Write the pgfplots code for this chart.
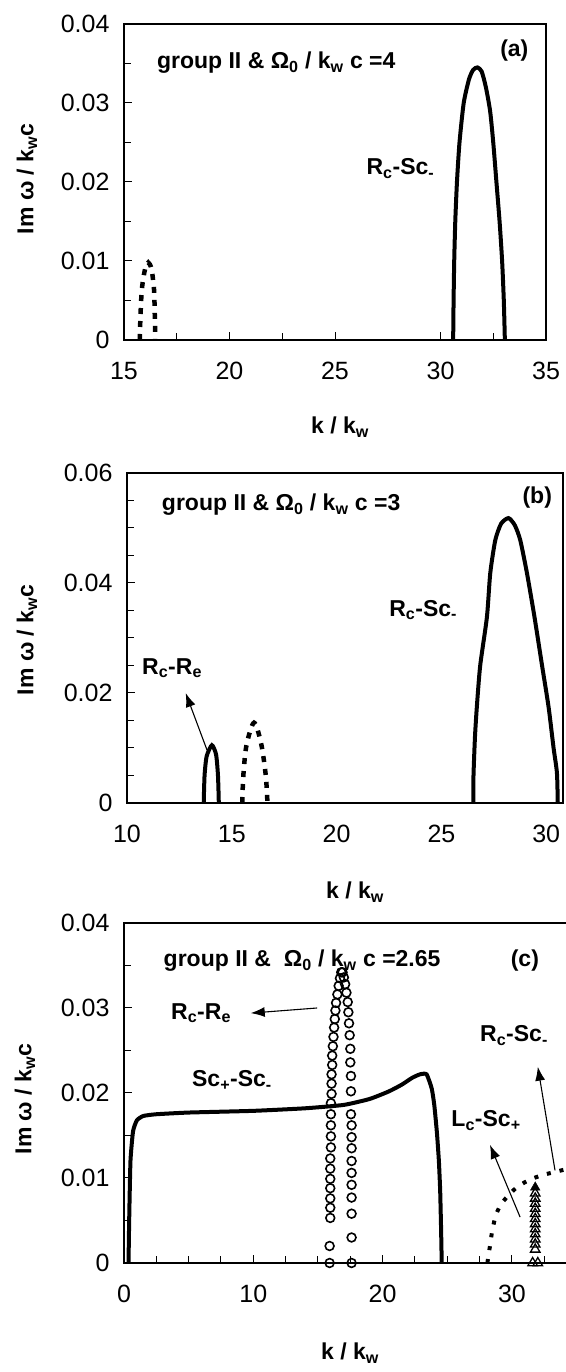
\documentclass[border=0pt]{standalone}
\usepackage{fontspec}
\setmainfont{Liberation Sans}
\usepackage{pgfplots}
\pgfplotsset{compat=1.18}
\usetikzlibrary{arrows.meta}

\pgfplotsset{
  panel/.style={
    scale only axis,
    anchor=south west,
    scaled y ticks=false, scaled x ticks=false,
    axis line style={line width=2.2pt},
    tick align=inside,
    xtick pos=bottom, ytick pos=left,
    major tick length=8pt, minor tick length=7pt,
    every tick/.style={black, line width=1pt},
    tick label style={font=\fontsize{25}{28}\selectfont},
    yticklabel style={xshift=-11pt},
    xticklabel style={yshift=-19pt},
  },
  solidc/.style={black, line width=4pt, smooth, tension=0.4, no markers},
  dashc/.style={black, line width=4.5pt, dash pattern=on 6pt off 7pt, smooth, no markers},
}
\newcommand{\ann}{\bfseries\fontsize{23}{27}\selectfont}
\newcommand{\lab}{\bfseries\fontsize{23}{27}\selectfont}
\tikzset{arr/.style={-{Latex[length=14pt,width=10pt]}, line width=1.1pt}}

\begin{document}
\begin{tikzpicture}
\useasboundingbox (0,0) rectangle (565pt,1372pt);

% ---------------- panel (a)
\begin{axis}[panel, at={(124pt,1032pt)}, width=422pt, height=316pt,
  xmin=15, xmax=35, ymin=0, ymax=0.04,
  xtick={15,20,25,30,35}, xticklabels={15,20,25,30,35},
  ytick={0,0.01,0.02,0.03,0.04}, yticklabels={0,0.01,0.02,0.03,0.04},
  minor xtick={17.5,22.5,32.5}, minor ytick={0.005,0.015,0.025,0.035}]
\addplot[solidc] coordinates {
(30.60,0) (30.62,0.005) (30.65,0.010) (30.70,0.015) (30.78,0.020) (30.90,0.025)
(31.10,0.030) (31.35,0.033) (31.55,0.0342) (31.75,0.0345) (31.95,0.034)
(32.15,0.032) (32.35,0.029) (32.50,0.025) (32.65,0.020) (32.80,0.015)
(32.92,0.010) (33.00,0.005) (33.05,0.0)};
\addplot[dashc] coordinates {
(15.75,0) (15.78,0.003) (15.85,0.0065) (16.0,0.009) (16.15,0.0098)
(16.3,0.009) (16.42,0.0065) (16.46,0.003) (16.48,0)};
\node[anchor=west, font=\ann] at (axis cs:16.4,0.0351) {group II \& Ω\textsubscript{0} / k\textsubscript{w} c =4};
\node[font=\ann] at (axis cs:33.5,0.0366) {(a)};
\node[font=\ann] at (axis cs:28.1,0.0217) {R\textsubscript{c}-Sc\textsubscript{-}};
\end{axis}

% ---------------- panel (b)
\begin{axis}[panel, at={(127pt,569pt)}, width=436pt, height=330pt,
  xmin=10, xmax=30.8, ymin=0, ymax=0.06,
  xtick={10,15,20,25,30}, xticklabels={10,15,20,25,30},
  x tick style={draw=none},
  ytick={0,0.02,0.04,0.06}, yticklabels={0,0.02,0.04,0.06},
  minor ytick={0.005,0.01,0.015,0.025,0.03,0.035,0.045,0.05,0.055}]
\addplot[solidc] coordinates {
(26.52,0) (26.53,0.005) (26.6,0.012) (26.69,0.0175) (26.85,0.025) (27.17,0.0338)
(27.33,0.0418) (27.57,0.0478) (27.85,0.0508) (28.2,0.0518) (28.5,0.0505)
(28.76,0.0478) (29.08,0.0418) (29.44,0.0338) (29.8,0.025) (30.11,0.0175)
(30.35,0.010) (30.51,0.0055) (30.55,0)};
\addplot[solidc] coordinates {
(13.66,0) (13.7,0.005) (13.8,0.0085) (14.05,0.0105) (14.25,0.0088) (14.34,0.005) (14.38,0)};
\addplot[dashc] coordinates {
(15.5,0) (15.55,0.005) (15.7,0.0105) (16.06,0.0146) (16.4,0.0108) (16.62,0.005) (16.7,0)};
\node[anchor=west, font=\ann] at (axis cs:11.5,0.0542) {group II \& Ω\textsubscript{0} / k\textsubscript{w} c =3};
\node[font=\ann] at (axis cs:29.57,0.0556) {(b)};
\node[font=\ann] at (axis cs:24.13,0.0351) {R\textsubscript{c}-Sc\textsubscript{-}};
\node[font=\ann] at (axis cs:12.15,0.0245) {R\textsubscript{c}-R\textsubscript{e}};
\draw[arr] (axis cs:13.82,0.0096) -- (axis cs:12.8,0.0200);
\end{axis}

% ---------------- panel (c)
\begin{axis}[panel, at={(124pt,109pt)}, width=452.6pt, height=340pt,
  xmin=0, xmax=35, ymin=0, ymax=0.04,
  xtick={0,10,20,30}, xticklabels={0,10,20,30},
  minor xtick={2.5,5,7.5,12.5,15,17.5,22.5,25,27.5,32.5},
  ytick={0,0.01,0.02,0.03,0.04}, yticklabels={0,0.01,0.02,0.03,0.04},
  minor ytick={0.005,0.015,0.025,0.035}]
\addplot[solidc, tension=0.3] coordinates {
(0.35,0) (0.4,0.005) (0.5,0.012) (0.7,0.0155) (1.0,0.0168) (1.5,0.0173)
(2.5,0.0175) (5,0.0177) (10,0.0179) (14,0.0182) (17,0.0186) (19,0.0193)
(20.5,0.0202) (21.5,0.021) (22.3,0.0218) (22.9,0.0222) (23.4,0.0222)
(23.8,0.0205) (24.0,0.0185) (24.2,0.0153) (24.35,0.012) (24.45,0.0085)
(24.52,0.004) (24.57,0)};
\addplot[only marks, mark=o, mark size=4.4pt, mark options={line width=1.6pt}, black] coordinates {
(15.9,0) (15.9,0.002) (15.95,0.0053) (15.95,0.0065) (15.95,0.0076) (15.95,0.0088)
(15.95,0.0099) (15.95,0.0111) (15.95,0.0123) (16.0,0.0136) (16.0,0.0149)
(16.0,0.0162) (16.0,0.0175) (16.0,0.0188) (16.05,0.0199) (16.05,0.0211)
(16.05,0.0222) (16.1,0.0233) (16.1,0.0244) (16.15,0.0255) (16.2,0.0266)
(16.25,0.0277) (16.3,0.0287) (16.35,0.0297) (16.4,0.0306) (16.5,0.0316)
(16.6,0.0326) (16.7,0.0335) (16.8,0.0342)
(16.9,0.0342) (17.0,0.0336) (17.1,0.0328) (17.2,0.0318) (17.3,0.0307)
(17.35,0.0295) (17.4,0.0282) (17.45,0.0268) (17.5,0.0252) (17.5,0.0236)
(17.55,0.022) (17.55,0.0202) (17.55,0.0175) (17.6,0.0162) (17.6,0.0148)
(17.6,0.0135) (17.6,0.012) (17.6,0.0106) (17.6,0.0092) (17.6,0.0077)
(17.6,0.0058) (17.6,0.003) (17.6,0)};
\addplot[only marks, mark=triangle, mark size=5.5pt, mark options={line width=1.3pt}, black] coordinates {
(31.6,0) (32.0,0) (31.8,0.0016) (31.8,0.0022) (31.8,0.0028) (31.8,0.0034) (31.8,0.004)
(31.8,0.0046) (31.8,0.0052) (31.8,0.0058) (31.8,0.0064) (31.8,0.007) (31.8,0.0076) (31.8,0.0082)};
\addplot[only marks, mark=triangle*, mark size=5.5pt, black] coordinates {(31.8,0.0089)};
\addplot[black, line width=4pt, dash pattern=on 4pt off 9pt, smooth, no markers] coordinates {
(28.1,0) (28.3,0.002) (28.5,0.004) (28.8,0.0058) (29.2,0.007) (29.7,0.0079)
(30.3,0.0088) (31.0,0.0095) (31.7,0.0100) (32.5,0.0104) (33.3,0.0107) (34.1,0.011) (35,0.0113)};
\node[anchor=west, font=\ann] at (axis cs:2.8,0.0356) {group II \& \ Ω\textsubscript{0} / k\textsubscript{w} c =2.65};
\node[font=\ann] at (axis cs:31.0,0.0356) {(c)};
\node[font=\ann] at (axis cs:5.96,0.0294) {R\textsubscript{c}-R\textsubscript{e}};
\draw[arr] (axis cs:14.93,0.0300) -- (axis cs:9.8,0.0294);
\node[font=\ann] at (axis cs:8.35,0.0215) {Sc\textsubscript{+}-Sc\textsubscript{-}};
\node[font=\ann] at (axis cs:30.16,0.0268) {R\textsubscript{c}-Sc\textsubscript{-}};
\draw[arr] (axis cs:33.33,0.0109) -- (axis cs:32.0,0.0231);
\node[font=\ann] at (axis cs:28.0,0.0168) {L\textsubscript{c}-Sc\textsubscript{+}};
\draw[arr] (axis cs:30.63,0.0054) -- (axis cs:28.3,0.0139);
\end{axis}

% axis labels
\node[rotate=90, font=\lab] at (27pt,1193pt) {Im ω / k\textsubscript{w}c};
\node[rotate=90, font=\lab] at (27pt,732pt) {Im ω / k\textsubscript{w}c};
\node[rotate=90, font=\lab] at (25pt,273pt) {Im ω / k\textsubscript{w}c};
\node[font=\lab] at (340pt,945pt) {k / k\textsubscript{w}};
\node[font=\lab] at (355pt,480pt) {k / k\textsubscript{w}};
\node[font=\lab] at (350pt,19pt) {k / k\textsubscript{w}};
\end{tikzpicture}
\end{document}
